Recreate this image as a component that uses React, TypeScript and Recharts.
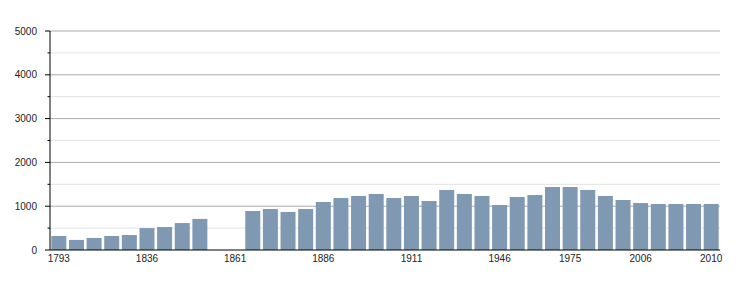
import { BarChart, Bar, XAxis, YAxis, CartesianGrid } from 'recharts';

// census years (1856 and 1861 have no figure)
const years = [
  '1793', '1800', '1806', '1821', '1831', '1836', '1841', '1846', '1851', '1856',
  '1861', '1866', '1872', '1876', '1881', '1886', '1891', '1896', '1901', '1906',
  '1911', '1921', '1926', '1931', '1936', '1946', '1954', '1962', '1968', '1975',
  '1982', '1990', '1999', '2006', '2007', '2008', '2009', '2010',
];

const population = [
  320, 230, 275, 320, 340, 500, 525, 615, 710, null,
  null, 890, 936, 868, 936, 1096, 1187, 1233, 1279, 1187,
  1233, 1119, 1370, 1279, 1233, 1027, 1210, 1256, 1438, 1438,
  1370, 1233, 1142, 1073, 1050, 1050, 1050, 1050,
];

const xLabels = ['1793', '1836', '1861', '1886', '1911', '1946', '1975', '2006', '2010'];
const yTicks = [0, 500, 1000, 1500, 2000, 2500, 3000, 3500, 4000, 4500, 5000];
const majorLines = [1000, 2000, 3000, 4000, 5000];
const minorLines = [500, 1500, 2500, 3500, 4500];

const data = years.map((year, i) => ({ year, value: population[i] }));

const FONT = '"Liberation Sans", Arial, sans-serif';

function YTick(props: any) {
  const { x, y, payload } = props;
  const major = payload.value % 1000 === 0;
  return (
    <g>
      <line x1={x - (major ? 5 : 2.5)} x2={x} y1={y} y2={y} stroke="#000" />
      {major && (
        <text x={x - 13} y={y} dy="0.35em" textAnchor="end" fontSize={10} fontFamily={FONT} fill="#222">
          {payload.value}
        </text>
      )}
    </g>
  );
}

export default function App() {
  return (
    <div style={{ position: 'absolute', left: 0, top: 0, background: '#fff' }}>
      <BarChart
        width={750}
        height={300}
        data={data}
        margin={{ top: 31, right: 30, left: 0, bottom: 0 }}
        barCategoryGap="7.5%"
      >
        <CartesianGrid vertical={false} horizontalValues={minorLines} stroke="#e2e2e2" />
        <CartesianGrid vertical={false} horizontalValues={majorLines} stroke="#aaaaaa" />
        <XAxis
          dataKey="year"
          ticks={xLabels}
          interval={0}
          tickLine={false}
          tickSize={0}
          tickMargin={5}
          axisLine={{ stroke: '#000' }}
          height={50}
          tick={{ fontSize: 10, fontFamily: FONT, fill: '#222' }}
        />
        <YAxis
          width={50}
          domain={[0, 5000]}
          ticks={yTicks}
          interval={0}
          tickLine={false}
          tickSize={0}
          tickMargin={0}
          axisLine={{ stroke: '#000' }}
          tick={<YTick />}
        />
        <Bar dataKey="value" fill="#7f99b2" isAnimationActive={false} />
      </BarChart>
    </div>
  );
}
